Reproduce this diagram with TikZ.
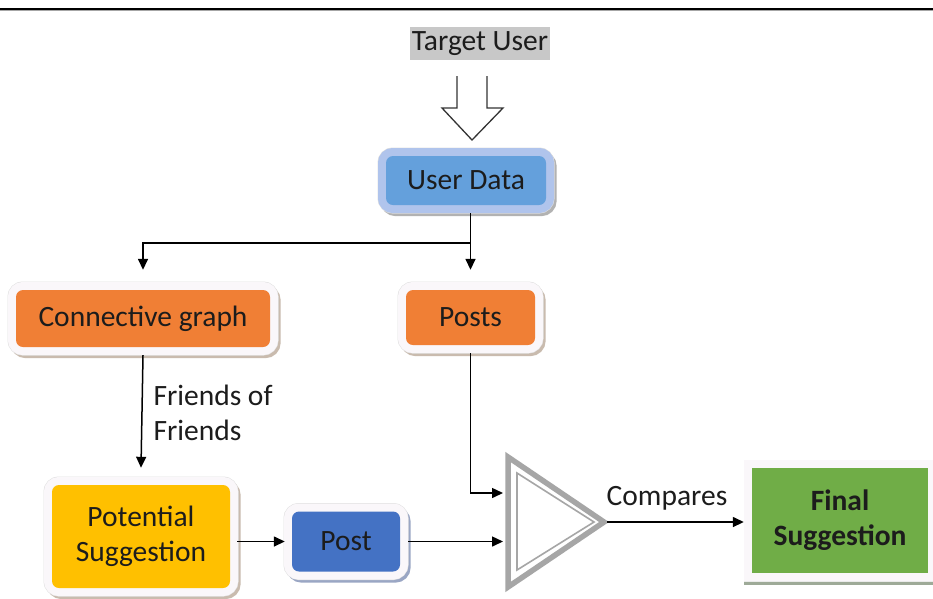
\documentclass[tikz,border=0pt]{standalone}
\usepackage{fontspec}
\setmainfont{Carlito}
\usetikzlibrary{arrows.meta,shadows}
\definecolor{txt}{HTML}{1C1C1C}
\definecolor{orangebox}{HTML}{F07F35}
\definecolor{bluelight}{HTML}{64A0DC}
\definecolor{blueframe}{HTML}{B0C4EC}
\definecolor{bluedark}{HTML}{4472C4}
\definecolor{yellowbox}{HTML}{FFC000}
\definecolor{greenbox}{HTML}{70AD47}
\definecolor{tugray}{HTML}{C8C8C8}
\definecolor{trigray}{HTML}{A6A6A6}
\definecolor{shadowbrown}{HTML}{C9BBAE}
\definecolor{shadowblue}{HTML}{9AA6C4}
\definecolor{shadowgreen}{HTML}{9EAA98}
\definecolor{framewhite}{HTML}{FAF7FA}
\tikzset{
  lbl/.style={font=\fontsize{29.5}{35}\selectfont, text=txt, align=center},
  framebox/.style n args={3}{rounded corners=7pt, inner sep=0pt, align=center,
    font=\fontsize{29.5}{35}\selectfont, text=txt,
    drop shadow={shadow xshift=2.5pt, shadow yshift=-3pt, draw=#3, fill=#3, line width=16pt, opacity=1},
    preaction={draw=black!12, line width=17pt},
    preaction={draw=#2, line width=16pt},
    fill=#1},
  arr/.style={-{Triangle[length=11pt,width=10pt]}, line width=1.5pt, draw=black},
  plain/.style={line width=1.5pt, draw=black}
}
\begin{document}
\begin{tikzpicture}[x=1pt,y=-1pt]
\useasboundingbox (0,0) rectangle (933,598);
\fill[white] (0,0) rectangle (933,598);
% top rule
\draw[trigray, line width=1.4pt] (0,10.6) -- (933,10.6);
\draw[line width=2pt] (0,9) -- (933,9);

% Target user
\node[lbl, fill=tugray, minimum width=140pt, minimum height=33pt, inner sep=0pt] (tu) at (480,43.5) {Target User};

% hollow block arrow
\draw[line width=1.3pt, draw=black!80, line join=miter]
  (457,76) -- (457,108) -- (442,108) -- (472,140) -- (503,108) -- (487,108) -- (487,76);

% boxes
\node[framebox={bluelight}{blueframe}{black!30}, minimum width=160pt, minimum height=49pt] (ud) at (466,180.5) {User Data};
\node[framebox={orangebox}{framewhite}{shadowbrown}, minimum width=254pt, minimum height=57pt] (cg) at (143,318.5) {Connective graph};
\node[framebox={orangebox}{framewhite}{shadowbrown}, minimum width=129pt, minimum height=55pt] (posts) at (470.5,317.5) {Posts};
\node[framebox={yellowbox}{framewhite}{shadowbrown}, minimum width=178pt, minimum height=103pt] (ps) at (141,536.5) {Potential\\Suggestion};
\node[framebox={bluedark}{framewhite}{shadowblue}, minimum width=108pt, minimum height=60pt] (post) at (346,541.5) {Post};
\node[inner sep=0pt, align=center, font=\bfseries\fontsize{29.5}{35}\selectfont, text=txt,
  drop shadow={shadow xshift=0pt, shadow yshift=-4pt, draw=shadowgreen, fill=shadowgreen, line width=16pt, opacity=1},
  preaction={draw=black!8, line width=17pt},
  preaction={draw=framewhite, line width=16pt},
  fill=greenbox, minimum width=176pt, minimum height=105pt] (fs) at (840,520.5) {Final\\Suggestion};

% comparator triangle
\draw[trigray, line width=5.5pt, line join=miter] (508,457) -- (508,587) -- (604,522) -- cycle;
\draw[trigray, line width=1.6pt, line join=miter] (517,473) -- (517,570) -- (594,522) -- cycle;
\coordinate (in1) at (503,493);
\coordinate (in2) at (503,541.5);
\coordinate (tout) at (607,522);

% connectors
\coordinate (j) at (470.5,243);
\coordinate (udb) at ([yshift=-8pt]ud.south);
\draw[plain] (j |- udb) -- (j);
\draw[arr] (j) -| ([yshift=20pt]cg.north);
\draw[arr] (j) -- ([yshift=20pt]posts.north);
\draw[arr] ([yshift=-8pt]cg.south) -- ([yshift=17pt]ps.north);
\node[lbl, anchor=west, align=left] (fof) at (150,413) {Friends of\\Friends};
\coordinate (pse) at ([xshift=7pt]ps.east);
\draw[arr] (pse |- post.west) -- ([xshift=-7pt]post.west);
\draw[arr] ([xshift=8pt]post.east) -- (in2);
\draw[arr] ([yshift=-8pt]posts.south) |- (in1);
\draw[arr] (tout) -- ([xshift=-8pt]fs.west |- tout);
\node[lbl] (cmp) at (667,498) {Compares};
\end{tikzpicture}
\end{document}
